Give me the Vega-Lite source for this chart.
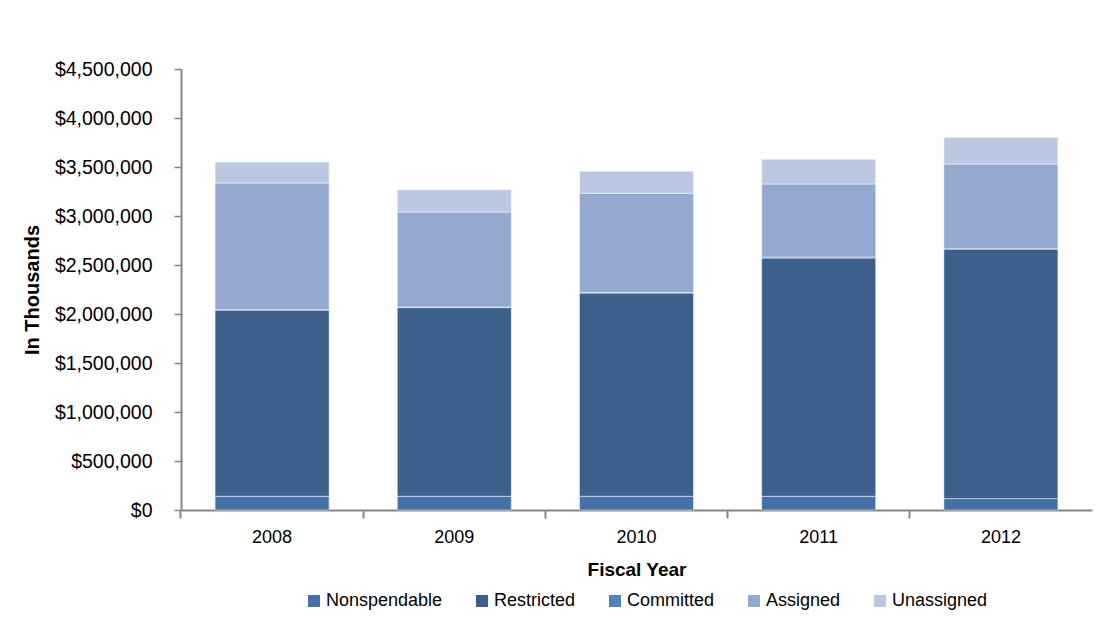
{
  "$schema": "https://vega.github.io/schema/vega-lite/v6.json",
  "width": 911,
  "height": 441,
  "autosize": {"type": "none"},
  "padding": {"left": 181, "top": 69, "right": 13, "bottom": 107},
  "background": "white",
  "config": {
    "view": {"stroke": null},
    "font": "Liberation Sans",
    "axis": {"labelFont": "Liberation Sans", "titleFont": "Liberation Sans"},
    "legend": {"labelFont": "Liberation Sans"}
  },
  "data": {
    "values": [
      {"year": "2008", "category": "Nonspendable", "order": 1, "value": 140000},
      {"year": "2008", "category": "Restricted", "order": 2, "value": 1901000},
      {"year": "2008", "category": "Committed", "order": 3, "value": 2000},
      {"year": "2008", "category": "Assigned", "order": 4, "value": 1294000},
      {"year": "2008", "category": "Unassigned", "order": 5, "value": 214000},
      {"year": "2009", "category": "Nonspendable", "order": 1, "value": 140000},
      {"year": "2009", "category": "Restricted", "order": 2, "value": 1925000},
      {"year": "2009", "category": "Committed", "order": 3, "value": 6000},
      {"year": "2009", "category": "Assigned", "order": 4, "value": 970000},
      {"year": "2009", "category": "Unassigned", "order": 5, "value": 228000},
      {"year": "2010", "category": "Nonspendable", "order": 1, "value": 140000},
      {"year": "2010", "category": "Restricted", "order": 2, "value": 2074000},
      {"year": "2010", "category": "Committed", "order": 3, "value": 5000},
      {"year": "2010", "category": "Assigned", "order": 4, "value": 1013000},
      {"year": "2010", "category": "Unassigned", "order": 5, "value": 224000},
      {"year": "2011", "category": "Nonspendable", "order": 1, "value": 140000},
      {"year": "2011", "category": "Restricted", "order": 2, "value": 2431000},
      {"year": "2011", "category": "Committed", "order": 3, "value": 10000},
      {"year": "2011", "category": "Assigned", "order": 4, "value": 746000},
      {"year": "2011", "category": "Unassigned", "order": 5, "value": 252000},
      {"year": "2012", "category": "Nonspendable", "order": 1, "value": 116000},
      {"year": "2012", "category": "Restricted", "order": 2, "value": 2547000},
      {"year": "2012", "category": "Committed", "order": 3, "value": 3000},
      {"year": "2012", "category": "Assigned", "order": 4, "value": 865000},
      {"year": "2012", "category": "Unassigned", "order": 5, "value": 269000}
    ]
  },
  "layer": [
    {
      "mark": {"type": "bar", "stroke": "#ffffff", "strokeWidth": 1, "strokeOpacity": 0.5},
      "encoding": {
        "x": {
          "field": "year",
          "type": "ordinal",
          "scale": {"paddingInner": 0.374, "paddingOuter": 0.187},
          "axis": {
            "title": "Fiscal Year",
            "labelAngle": 0,
            "ticks": false,
            "labelPadding": 18,
            "labelFontSize": 18,
            "labelColor": "#000000",
            "titleFontSize": 19,
            "titleFontWeight": "bold",
            "titleColor": "#000000",
            "titlePadding": 14,
            "domainColor": "#868686",
            "domainWidth": 2
          }
        },
        "y": {
          "field": "value",
          "type": "quantitative",
          "stack": "zero",
          "scale": {"domain": [0, 4500000], "nice": false},
          "axis": {
            "values": [0, 500000, 1000000, 1500000, 2000000, 2500000, 3000000, 3500000, 4000000, 4500000],
            "format": "$,.0f",
            "grid": false,
            "tickSize": 7,
            "tickColor": "#868686",
            "tickWidth": 1.5,
            "domainColor": "#868686",
            "domainWidth": 2,
            "labelFontSize": 19.5,
            "labelColor": "#000000",
            "labelPadding": 22,
            "title": "In Thousands",
            "titleFontSize": 20,
            "titleFontWeight": "bold",
            "titleColor": "#000000",
            "titlePadding": 12
          }
        },
        "color": {
          "field": "category",
          "type": "nominal",
          "scale": {
            "domain": ["Nonspendable", "Restricted", "Committed", "Assigned", "Unassigned"],
            "range": ["#4571a7", "#3c5f8c", "#4f81bd", "#95a9d0", "#bcc8e1"]
          },
          "legend": {
            "title": null,
            "orient": "none",
            "legendX": 124,
            "legendY": 523,
            "direction": "horizontal",
            "columns": 5,
            "columnPadding": 30,
            "symbolType": "square",
            "symbolSize": 144,
            "symbolStrokeWidth": 0,
            "labelFontSize": 18,
            "labelColor": "#000000",
            "labelOffset": 3,
            "padding": 0
          }
        },
        "order": {"field": "order", "type": "quantitative"}
      }
    },
    {
      "mark": {"type": "rule", "strokeOpacity": 0},
      "encoding": {
        "x": {
          "field": "year",
          "type": "ordinal",
          "axis": {
            "orient": "bottom",
            "bandPosition": -0.3,
            "labels": false,
            "title": null,
            "domain": false,
            "tickSize": 8,
            "tickColor": "#868686",
            "tickWidth": 2
          }
        }
      }
    }
  ],
  "resolve": {"axis": {"x": "independent"}}
}
